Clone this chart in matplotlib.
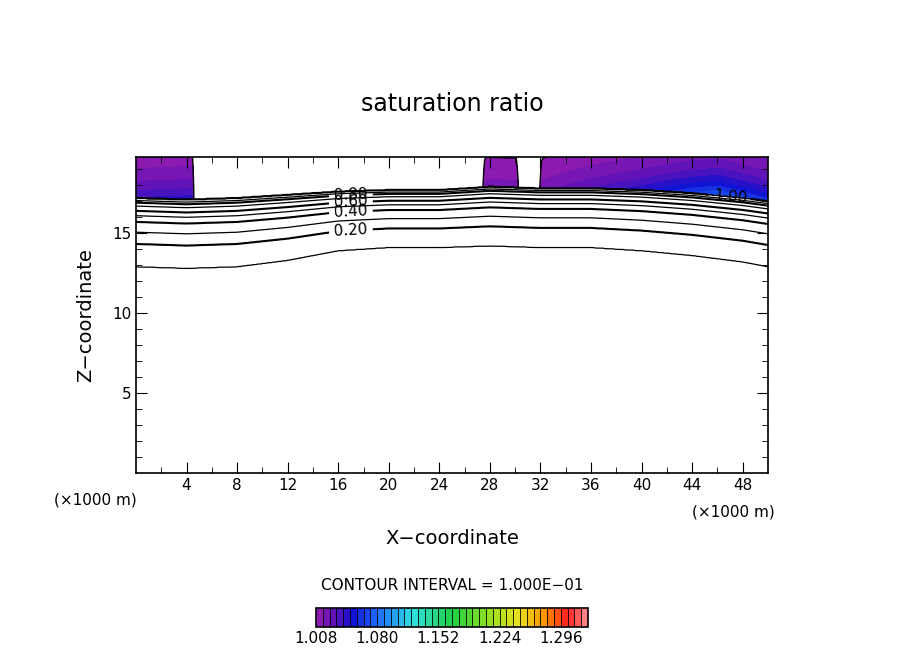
import matplotlib.pyplot as plt
import numpy as np
from matplotlib.colors import LinearSegmentedColormap, BoundaryNorm

# contour geometry (km)
x_pts = [0, 4, 8, 12, 16, 20, 24, 28, 32, 36, 40, 44, 48, 50]
z_low = [12.9, 12.8, 12.9, 13.3, 13.9, 14.1, 14.1, 14.2, 14.1, 14.1, 13.9, 13.6, 13.2, 12.9]   # 0.1 line
z_top = [17.2, 17.1, 17.2, 17.4, 17.6, 17.7, 17.7, 17.9, 17.8, 17.8, 17.7, 17.5, 17.2, 17.0]  # 1.0 line
frac_pts = [-3.0, 0.0, 0.33, 0.50, 0.65, 0.74, 0.81, 0.88, 0.93, 0.96, 1.0]
sat_pts = [0.0, 0.1, 0.2, 0.3, 0.4, 0.5, 0.6, 0.7, 0.8, 0.9, 1.0]
# supersaturation above the 1.0 line
ex_x = [0, 4.4, 4.6, 27.4, 27.6, 30.1, 30.3, 31.9, 32.1, 40, 46, 50]
ex_v = [0.04, 0.045, 0.004, 0.004, 0.02, 0.02, 0.004, 0.004, 0.02, 0.045, 0.075, 0.06]

thin_levels = [0.1, 0.3, 0.5, 0.7, 0.9]
thick_levels = [0.2, 0.4, 0.6, 0.8, 1.0]
levels_fill = 1.008 + 0.008 * np.arange(41)

x = np.linspace(0, 50, 601)
z = np.linspace(0, 19.75, 500)
X, Z = np.meshgrid(x, z)
zb = np.interp(x, x_pts, z_low)
zt = np.interp(x, x_pts, z_top)
ex = np.interp(x, ex_x, ex_v)
frac = (Z - zb) / (zt - zb)
S = np.interp(frac.ravel(), frac_pts, sat_pts).reshape(Z.shape)
above = Z >= zt
S = np.where(above, 1 + ex * np.exp(-(Z - zt) / 2.0), S)
L = np.where(above, 1.05, S - 1e-6)

cmap = LinearSegmentedColormap.from_list('ncl', [
    (0.0, '#8a1ab0'), (0.06, '#5a12b8'), (0.12, '#1010d0'), (0.22, '#2070ff'),
    (0.35, '#30e0e0'), (0.5, '#20d040'), (0.65, '#a0e020'), (0.75, '#e8e020'),
    (0.85, '#ff9000'), (0.93, '#ff2020'), (1.0, '#ff8080')])
norm = BoundaryNorm(levels_fill, cmap.N)

fig = plt.figure(figsize=(9.04, 6.54), dpi=100)
ax = fig.add_axes([136 / 904, 1 - 473 / 654, 632 / 904, 316 / 654])
ax.contourf(X, Z, S, levels=levels_fill, cmap=cmap, norm=norm, extend='neither')
ax.contour(X, Z, S, levels=[1.008], colors='k', linewidths=1.0)
ax.contour(X, Z, L, levels=thin_levels, colors='k', linewidths=0.9)
cs = ax.contour(X, Z, L, levels=thick_levels, colors='k', linewidths=1.5)
man = []
for lv in thick_levels:
    xx = 47 if lv == 1.0 else 17
    fz = np.interp(lv - 1e-6, sat_pts, frac_pts)
    zb0 = np.interp(xx, x_pts, z_low); zt0 = np.interp(xx, x_pts, z_top)
    man.append((xx, zb0 + fz * (zt0 - zb0)))
ax.clabel(cs, manual=man, fmt='%.2f', fontsize=11, inline=True)

ax.set_xlim(0, 50)
ax.set_ylim(0, 19.75)
ax.set_xticks(np.arange(4, 49, 4))
ax.set_xticks(np.arange(2, 50, 2), minor=True)
ax.set_yticks([5, 10, 15])
ax.set_yticks(np.arange(1, 20, 1), minor=True)
ax.tick_params(which='both', direction='in', top=True, right=True, labelsize=11)
ax.tick_params(which='major', length=8)
ax.tick_params(which='minor', length=4)
ax.set_xlabel('X\u2212coordinate', fontsize=14, labelpad=26)
ax.set_ylabel('Z\u2212coordinate', fontsize=14, labelpad=12)
for s in ax.spines.values():
    s.set_linewidth(1.2)

fig.text(95 / 904, 1 - 500 / 654, '(\u00d71000 m)', fontsize=11, ha='center', va='center')
fig.text(733 / 904, 1 - 512 / 654, '(\u00d71000 m)', fontsize=11, ha='center', va='center')
fig.text(452 / 904, 1 - 104 / 654, 'saturation ratio', fontsize=17, ha='center', va='center')
fig.text(452 / 904, 1 - 585 / 654, 'CONTOUR INTERVAL = 1.000E\u221201', fontsize=11, ha='center', va='center')

cax = fig.add_axes([316 / 904, 1 - 627 / 654, 272 / 904, 19 / 654])
cb = fig.colorbar(plt.cm.ScalarMappable(norm=norm, cmap=cmap), cax=cax, orientation='horizontal',
                  drawedges=True)
cb.dividers.set_linewidth(0.6)
cb.set_ticks([1.008, 1.080, 1.152, 1.224, 1.296])
cb.set_ticklabels(['1.008', '1.080', '1.152', '1.224', '1.296'])
cax.minorticks_off()
cax.tick_params(which='both', length=0, labelsize=11, pad=3)
cb.outline.set_linewidth(1.2)

fig.savefig('out.png', dpi=100)
